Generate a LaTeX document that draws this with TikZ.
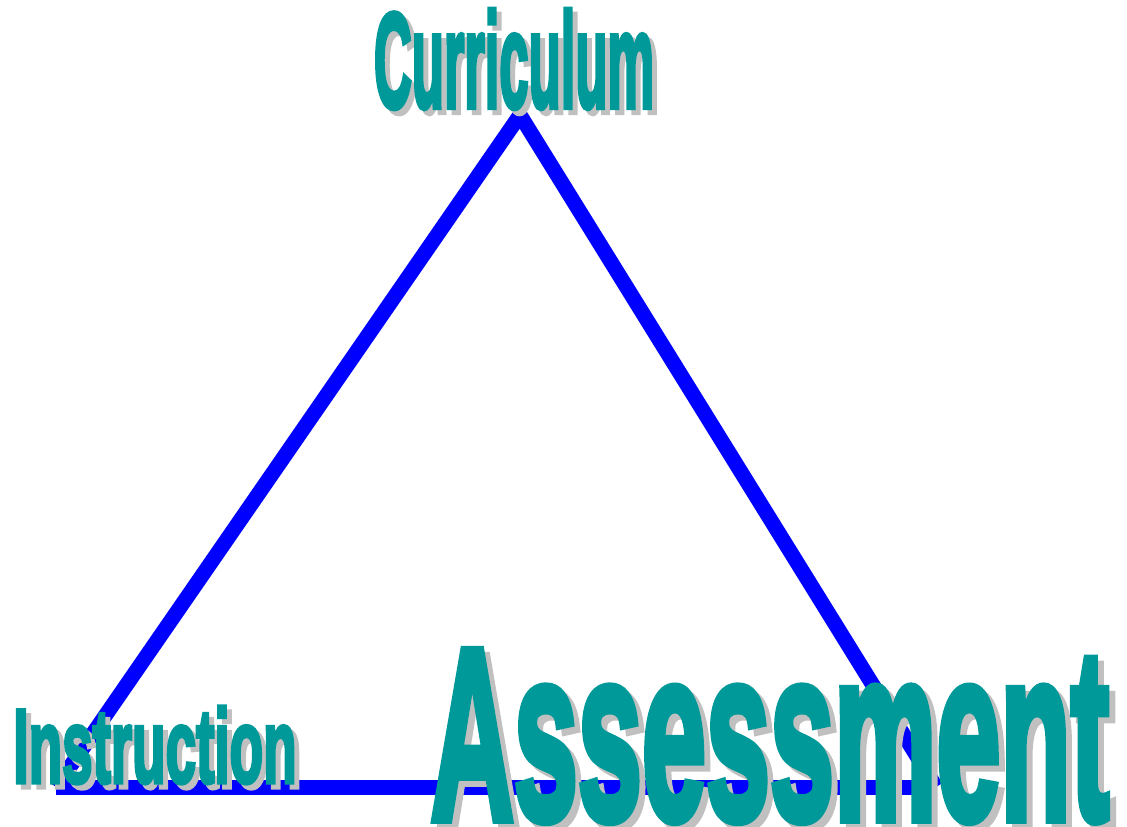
\documentclass[tikz,border=0pt]{standalone}
\usepackage{fontspec}
\usepackage{graphicx}
\newfontfamily\wordfont{Liberation Sans}[UprightFont={* Bold},FakeBold=4]
\definecolor{wordteal}{RGB}{0,153,153}
\definecolor{wordgrey}{RGB}{192,192,192}
\newcommand{\heavyword}[3]{\resizebox{#1}{#2}{\wordfont #3}}

\begin{document}
\begin{tikzpicture}[x=0.01cm,y=-0.01cm,
	side/.style={draw=blue, line width=0.15cm},
	word/.style={inner sep=0pt, text=wordteal},
	wordshadow/.style={inner sep=0pt, text=wordgrey}]
	\useasboundingbox (0,0) rectangle (1127,826);
	\coordinate (curr) at (520,115);
	\coordinate (instr) at (56,787);
	\coordinate (assess) at (936,787);
	\draw[side] (instr) -- (curr) -- (assess);
	\draw[side] (instr) -- (assess);
	% shadows first, then the words
	\node[wordshadow] (currshadow) at (519,64) {\heavyword{2.80cm}{0.98cm}{Curriculum}};
	\node[wordshadow] (instrshadow) at (160,750) {\heavyword{2.83cm}{0.76cm}{Instruction}};
	\node[wordshadow] (assessshadow) at (776,742) {\heavyword{6.78cm}{1.68cm}{Assessment}};
	\node[word] (currword) at (514,59) {\heavyword{2.80cm}{0.98cm}{Curriculum}};
	\node[word] (instrword) at (155,745) {\heavyword{2.83cm}{0.76cm}{Instruction}};
	\node[word] (assessword) at (770,736) {\heavyword{6.78cm}{1.68cm}{Assessment}};
\end{tikzpicture}
\end{document}
